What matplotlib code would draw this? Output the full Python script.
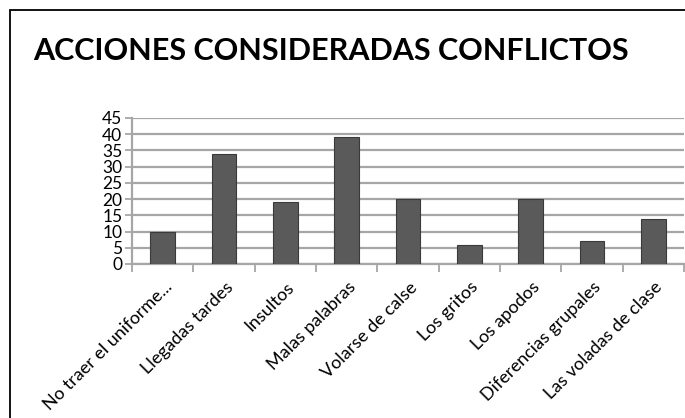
import matplotlib.pyplot as plt
from matplotlib.patches import Rectangle
from matplotlib.transforms import ScaledTranslation

# ---- data ----
categories = ['No traer el uniforme...', 'Llegadas tardes', 'Insultos',
              'Malas palabras', 'Volarse de calse', 'Los gritos',
              'Los apodos', 'Diferencias grupales', 'Las voladas de clase']
values = [10, 34, 19, 39, 20, 6, 20, 7, 14]
yticks = list(range(0, 46, 5))
# --------------

plt.rcParams['font.family'] = ['Lato', 'DejaVu Sans']

fig = plt.figure(figsize=(6.85, 4.18), dpi=100)
fig.patch.set_facecolor('white')

# outer frame (cropped on right and bottom)
fig.patches.append(Rectangle((10 / 685, -0.2), 1.2, 1.2 - 10 / 418,
                             transform=fig.transFigure, fill=False,
                             edgecolor='black', linewidth=1.3))

fig.text(33 / 685, 1 - 60 / 418, 'ACCIONES CONSIDERADAS CONFLICTOS',
         fontsize=22, fontweight='bold', va='baseline', ha='left')

ax = fig.add_axes([132 / 685, 154 / 418, 552 / 685, 146 / 418])

x = list(range(len(categories)))
ax.bar(x, values, width=0.4, color='#5a5a5a', edgecolor='#3a3a3a',
       linewidth=0.8, zorder=3)

ax.set_xlim(-0.5, len(categories) - 0.5)
ax.set_ylim(0, 45)
ax.set_yticks(yticks)
ax.set_yticklabels([str(v) for v in yticks], fontsize=12.5)
ax.yaxis.grid(True, color='#a6a6a6', linewidth=1.6, zorder=0)

# category boundary ticks
ax.set_xticks([i - 0.5 for i in range(len(categories) + 1)])
ax.set_xticklabels([])
ax.tick_params(axis='x', length=6, color='#a6a6a6', width=1.3)
ax.tick_params(axis='y', length=5, color='#a6a6a6', width=1.3, pad=2)

off = ScaledTranslation(1 / 100, -15 / 100, fig.dpi_scale_trans)
for i, lab in enumerate(categories):
    ax.text(i, 0, lab, rotation=45, ha='right', va='top',
            rotation_mode='anchor', fontsize=13,
            transform=ax.get_xaxis_transform() + off)

for s in ['top', 'right']:
    ax.spines[s].set_visible(False)
for s in ['left', 'bottom']:
    ax.spines[s].set_color('#a6a6a6')
    ax.spines[s].set_linewidth(1.6)

fig.savefig('out.png', dpi=100)
